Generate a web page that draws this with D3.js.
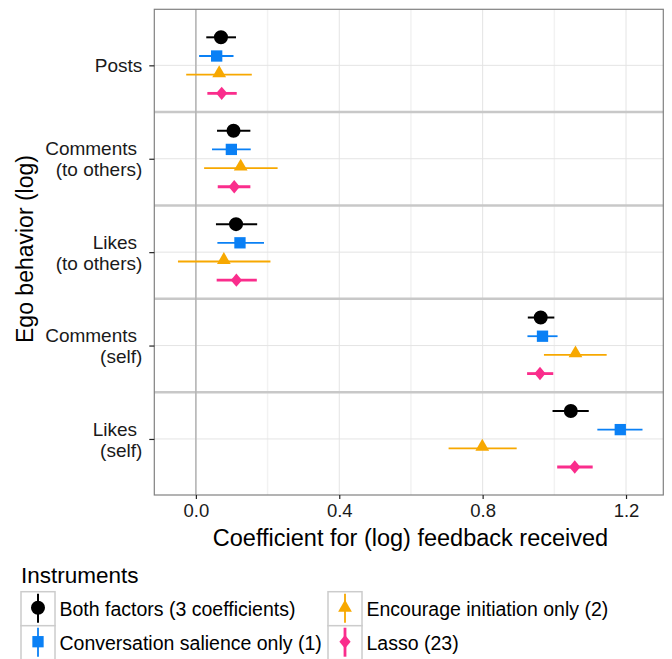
<!DOCTYPE html>
<html lang="en">
<head>
<meta charset="UTF-8">
<title>Ego behavior coefficients</title>
<script src="https://d3js.org/d3.v7.min.js"></script>
<style>
  body { margin: 0; background: #fff; }
  text { font-family: "Liberation Sans", Arial, Helvetica, sans-serif; }
</style>
</head>
<body>
<div id="chart"></div>
<script>
// categories (top to bottom)
var behaviors = ["Posts", "Comments \n(to others)", "Likes \n(to others)", "Comments \n(self)", "Likes \n(self)"]
var series = ["Both factors (3 coefficients)", "Conversation salience only (1)", "Encourage initiation only (2)", "Lasso (23)"]

// estimates and intervals per series, same order as behaviors
var bothEst = [0.070, 0.105, 0.112, 0.962, 1.046]
var bothLo  = [0.029, 0.059, 0.056, 0.926, 0.995]
var bothHi  = [0.112, 0.152, 0.171, 1.000, 1.096]

var convEst = [0.058, 0.099, 0.123, 0.967, 1.184]
var convLo  = [0.009, 0.045, 0.060, 0.925, 1.120]
var convHi  = [0.105, 0.153, 0.190, 1.009, 1.246]

var encEst = [0.065, 0.125, 0.078, 1.059, 0.799]
var encLo  = [-0.027, 0.023, -0.050, 0.971, 0.705]
var encHi  = [0.156, 0.228, 0.208, 1.146, 0.895]

var lassoEst = [0.072, 0.107, 0.113, 0.960, 1.057]
var lassoLo  = [0.032, 0.061, 0.058, 0.924, 1.008]
var lassoHi  = [0.114, 0.152, 0.170, 0.997, 1.107]

var xTicks = [0.0, 0.4, 0.8, 1.2]
var xMinor = [0.2, 0.6, 1.0]

var colors = ["#000000", "#0a80f5", "#f7a800", "#fa2d8c"]
var lineW = [2, 1.8, 1.8, 2.8]

// ggplot-like diamond (a bit taller than wide)
var diamond = {
  draw: function (ctx, size) {
    var w = 5.6, h = 6.7
    ctx.moveTo(0, -h); ctx.lineTo(w, 0); ctx.lineTo(0, h); ctx.lineTo(-w, 0); ctx.closePath()
  }
}
var shapes = [d3.symbolCircle, d3.symbolSquare, d3.symbolTriangle, diamond]
var shapeSize = [154, 128, 82, 1]

var allEst = [bothEst, convEst, encEst, lassoEst]
var allLo = [bothLo, convLo, encLo, lassoLo]
var allHi = [bothHi, convHi, encHi, lassoHi]

var data = []
series.forEach(function (s, i) {
  behaviors.forEach(function (b, j) {
    data.push({ series: s, si: i, behavior: b, est: allEst[i][j], lo: allLo[i][j], hi: allHi[i][j] })
  })
})

var W = 672, H = 659
var margin = { top: 9.3, right: 8.7, bottom: 164, left: 154.3 }
var width = W - margin.left - margin.right,
    height = H - margin.top - margin.bottom

var svg = d3.select("#chart").append("svg")
  .attr("width", W).attr("height", H)

var g = svg.append("g")
  .attr("transform", "translate(" + margin.left + "," + margin.top + ")")

var x = d3.scaleLinear().domain([-0.116, 1.304]).range([0, width])
var y = d3.scalePoint().domain(behaviors).range([0, height]).padding(0.6)
var dodge = d3.scalePoint().domain(series).range([-0.3 * y.step(), 0.3 * y.step()])

// minor grid
g.selectAll(".minor").data(xMinor).enter().append("line")
  .attr("x1", d => x(d)).attr("x2", d => x(d))
  .attr("y1", 0).attr("y2", height)
  .attr("stroke", "#f2f2f2").attr("stroke-width", 1.5)

// major grid
g.selectAll(".major").data(xTicks).enter().append("line")
  .attr("x1", d => x(d)).attr("x2", d => x(d))
  .attr("y1", 0).attr("y2", height)
  .attr("stroke", "#e4e4e4").attr("stroke-width", 1)
g.selectAll(".hmajor").data(behaviors).enter().append("line")
  .attr("x1", 0).attr("x2", width)
  .attr("y1", d => y(d)).attr("y2", d => y(d))
  .attr("stroke", "#e4e4e4").attr("stroke-width", 1)

// separators between behaviors
g.selectAll(".sep").data(behaviors.slice(1)).enter().append("line")
  .attr("x1", 0).attr("x2", width)
  .attr("y1", d => y(d) - y.step() / 2).attr("y2", d => y(d) - y.step() / 2)
  .attr("stroke", "#c8c8c8").attr("stroke-width", 2.5)

// zero line
g.append("line")
  .attr("x1", x(0)).attr("x2", x(0)).attr("y1", 0).attr("y2", height)
  .attr("stroke", "#b3b3b3").attr("stroke-width", 1.5)

// error bars and points
var marks = g.selectAll(".mark").data(data).enter().append("g")
  .attr("transform", d => "translate(0," + (y(d.behavior) + dodge(d.series)) + ")")
marks.append("line")
  .attr("x1", d => x(d.lo)).attr("x2", d => x(d.hi))
  .attr("stroke", d => colors[d.si]).attr("stroke-width", d => lineW[d.si])
marks.append("path")
  .attr("transform", d => "translate(" + x(d.est) + "," + (d.si == 2 ? -1.5 : 0) + ")")
  .attr("d", d => d3.symbol().type(shapes[d.si]).size(shapeSize[d.si])())
  .attr("fill", d => colors[d.si])

// panel border
g.append("rect").attr("width", width).attr("height", height)
  .attr("fill", "none").attr("stroke", "#808080").attr("stroke-width", 1.2)

// x axis
var xAxis = g.append("g").attr("transform", "translate(0," + height + ")")
  .call(d3.axisBottom(x).tickValues(xTicks).tickFormat(d3.format(".1f")).tickSize(4).tickPadding(5))
xAxis.select(".domain").remove()
xAxis.selectAll("line").attr("stroke", "#222").attr("stroke-width", 1.2)
xAxis.selectAll("text").attr("font-size", 18.5).attr("fill", "#1a1a1a")

// y axis
var yAxis = g.append("g")
  .call(d3.axisLeft(y).tickSize(5).tickPadding(4).tickFormat(""))
yAxis.select(".domain").remove()
yAxis.selectAll("line").attr("stroke", "#222").attr("stroke-width", 1.2)
yAxis.selectAll(".tick").each(function (d) {
  var lines = d.split("\n")
  var t = d3.select(this).append("text")
    .attr("text-anchor", "end").attr("xml:space", "preserve")
    .attr("font-size", 19).attr("fill", "#1a1a1a")
  lines.forEach(function (l, k) {
    t.append("tspan").attr("x", -12)
      .attr("y", (k - (lines.length - 1) / 2) * 21)
      .attr("dy", "0.35em").text(l)
  })
})

// axis titles
svg.append("text").attr("x", 410.5).attr("y", 546)
  .attr("text-anchor", "middle").attr("font-size", 23.5).attr("fill", "#000")
  .text("Coefficient for (log) feedback received")
svg.append("text").attr("transform", "translate(33,249) rotate(-90)")
  .attr("text-anchor", "middle").attr("font-size", 23).attr("fill", "#000")
  .text("Ego behavior (log)")

// legend
var legend = svg.append("g")
legend.append("text").attr("x", 21).attr("y", 583).attr("font-size", 22.5).text("Instruments")
var cols = [21, 328], rows = [591.7, 625.7]
var keyW = 34, keyH = 34
series.forEach(function (s, i) {
  var col = Math.floor(i / 2), row = i % 2
  var k = legend.append("g").attr("transform", "translate(" + cols[col] + "," + rows[row] + ")")
  k.append("rect").attr("width", keyW).attr("height", keyH)
    .attr("fill", "#fff").attr("stroke", "#cccccc").attr("stroke-width", 1.5)
  k.append("line").attr("x1", keyW / 2).attr("x2", keyW / 2).attr("y1", 2).attr("y2", keyH - 3)
    .attr("stroke", colors[i]).attr("stroke-width", lineW[i])
  k.append("path").attr("transform", "translate(" + keyW / 2 + "," + (keyH / 2 - 1) + ")")
    .attr("d", d3.symbol().type(shapes[i]).size(shapeSize[i])())
    .attr("fill", colors[i])
  k.append("text").attr("x", keyW + 4.5).attr("y", keyH / 2).attr("dy", "0.35em")
    .attr("font-size", 19.5).attr("fill", "#000").text(s)
})
</script>
</body>
</html>
